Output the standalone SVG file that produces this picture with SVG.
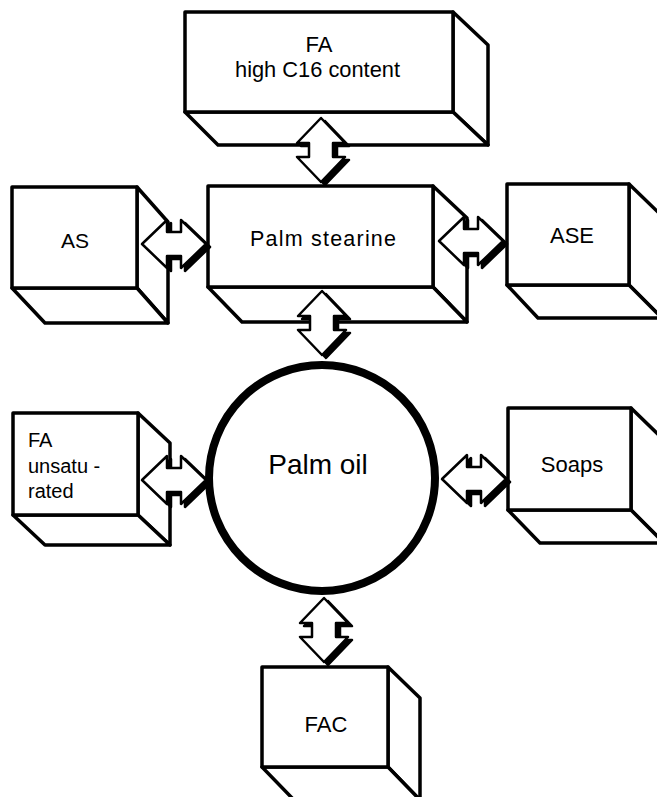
<svg xmlns="http://www.w3.org/2000/svg" width="657" height="797" viewBox="0 0 657 797">
  <style>
    .face { fill: #ffffff; stroke: #000000; stroke-width: 3.5; stroke-linejoin: round; }
    .hub { fill: #ffffff; stroke: #000000; stroke-width: 8; }
    .lbl { font-family: "Liberation Sans", Arial, Helvetica, sans-serif; fill: #000000; }
    .arrow { fill: #ffffff; stroke: #000000; stroke-width: 2.5; stroke-linejoin: round; }
    .shadow { fill: #000000; stroke: #000000; stroke-width: 2.5; stroke-linejoin: round; }
  </style>
  <defs>
    <!-- double-headed block arrow, horizontal, centred on the origin -->
    <path id="dbl" d="M -32 0 L -7 -24 L -7 -12 L 7 -12 L 7 -24 L 32 0 L 7 24 L 7 12 L -7 12 L -7 24 Z"/>
  </defs>

  <rect width="657" height="797" fill="#ffffff"/>

  <!-- FA high C16 content -->
  <g id="fa-c16">
    <polygon class="face" points="453,12 488,45 488,145 453,112"/>
    <polygon class="face" points="185,112 453,112 488,145 218,145"/>
    <rect class="face" x="185" y="12" width="268" height="100"/>
    <text class="lbl" x="319" y="52" font-size="22" text-anchor="middle">FA</text>
    <text class="lbl" x="235" y="77" font-size="22" textLength="165" lengthAdjust="spacingAndGlyphs">high C16 content</text>
  </g>

  <!-- AS -->
  <g id="as">
    <polygon class="face" points="137,187 168,222 168,323 137,288"/>
    <polygon class="face" points="12,288 137,288 168,323 45,323"/>
    <rect class="face" x="12" y="187" width="125" height="101"/>
    <text class="lbl" x="75" y="248" font-size="21" text-anchor="middle">AS</text>
  </g>

  <!-- Palm stearine -->
  <g id="palm-stearine">
    <polygon class="face" points="433,186 467,218 467,322 433,287"/>
    <polygon class="face" points="208,287 433,287 467,322 242,322"/>
    <rect class="face" x="208" y="186" width="225" height="101"/>
    <text class="lbl" x="250" y="246" font-size="21.5" textLength="146" lengthAdjust="spacing">Palm stearine</text>
  </g>

  <!-- ASE -->
  <g id="ase">
    <polygon class="face" points="629,184 662,216 662,318 629,285"/>
    <polygon class="face" points="507,285 629,285 662,318 538,318"/>
    <rect class="face" x="507" y="184" width="122" height="101"/>
    <text class="lbl" x="572" y="243" font-size="22" text-anchor="middle">ASE</text>
  </g>

  <!-- FA unsaturated -->
  <g id="fa-unsat">
    <polygon class="face" points="138,413 170,443 170,545 138,515"/>
    <polygon class="face" points="13,515 138,515 170,545 45,545"/>
    <rect class="face" x="13" y="413" width="125" height="102"/>
    <text class="lbl" x="28" y="447" font-size="20">FA</text>
    <text class="lbl" x="28" y="473" font-size="20">unsatu -</text>
    <text class="lbl" x="28" y="498" font-size="20">rated</text>
  </g>

  <!-- Palm oil -->
  <g id="palm-oil">
    <circle class="hub" cx="322" cy="478" r="113"/>
    <text class="lbl" x="318" y="474" font-size="28" text-anchor="middle">Palm oil</text>
  </g>

  <!-- Soaps -->
  <g id="soaps">
    <polygon class="face" points="631,408 664,440 664,543 631,510"/>
    <polygon class="face" points="508,510 631,510 664,543 540,543"/>
    <rect class="face" x="508" y="408" width="123" height="102"/>
    <text class="lbl" x="572" y="472" font-size="22" text-anchor="middle">Soaps</text>
  </g>

  <!-- FAC -->
  <g id="fac">
    <polygon class="face" points="388,667 420,698 420,800 388,767"/>
    <polygon class="face" points="262,767 388,767 420,800 294,800"/>
    <rect class="face" x="262" y="667" width="126" height="100"/>
    <text class="lbl" x="326" y="732" font-size="22" text-anchor="middle">FAC</text>
  </g>

  <!-- connectors: double arrows with a drop shadow to the lower right -->
  <g id="connectors">
    <use href="#dbl" class="shadow" transform="translate(325,153) rotate(90)"/>
    <use href="#dbl" class="arrow" transform="translate(321,150) rotate(90)"/>

    <use href="#dbl" class="shadow" transform="translate(326,326) rotate(90)"/>
    <use href="#dbl" class="arrow" transform="translate(322,323) rotate(90)"/>

    <use href="#dbl" class="shadow" transform="translate(178,247)"/>
    <use href="#dbl" class="arrow" transform="translate(174,244)"/>

    <use href="#dbl" class="shadow" transform="translate(475,244)"/>
    <use href="#dbl" class="arrow" transform="translate(471,241)"/>

    <use href="#dbl" class="shadow" transform="translate(178,483)"/>
    <use href="#dbl" class="arrow" transform="translate(174,480)"/>

    <use href="#dbl" class="shadow" transform="translate(478,482)"/>
    <use href="#dbl" class="arrow" transform="translate(474,479)"/>

    <use href="#dbl" class="shadow" transform="translate(328,633) rotate(90)"/>
    <use href="#dbl" class="arrow" transform="translate(324,630) rotate(90)"/>
  </g>
</svg>
